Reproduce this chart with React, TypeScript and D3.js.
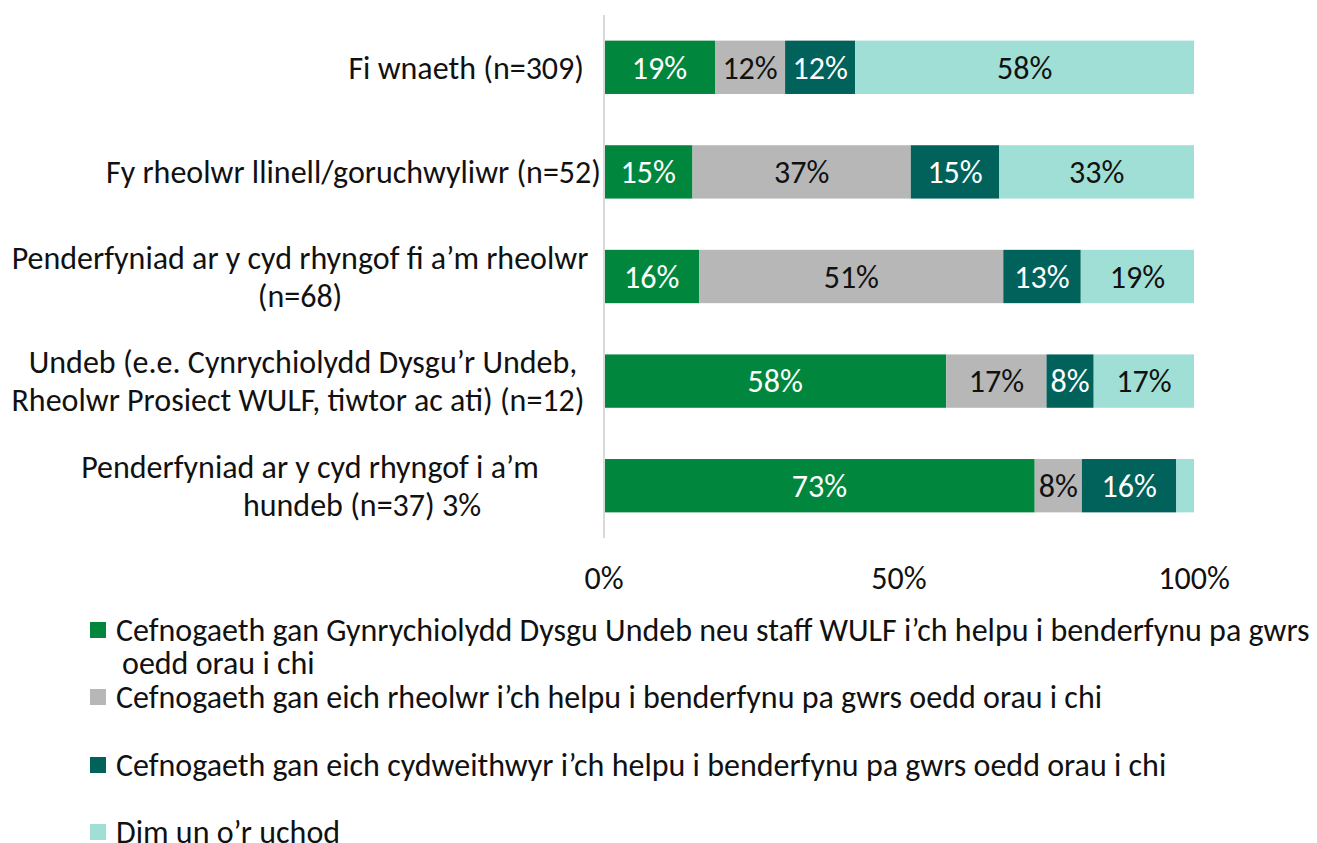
import React from "react";
import * as d3 from "d3";

const categories = [
  "Fi wnaeth (n=309)",
  "Fy rheolwr llinell/goruchwyliwr (n=52)",
  "Penderfyniad ar y cyd rhyngof fi a’m rheolwr (n=68)",
  "Undeb (e.e. Cynrychiolydd Dysgu’r Undeb, Rheolwr Prosiect WULF, tiwtor ac ati) (n=12)",
  "Penderfyniad ar y cyd rhyngof i a’m hundeb (n=37) 3%",
];
const categoryLines = [
  ["Fi wnaeth (n=309)"],
  ["Fy rheolwr llinell/goruchwyliwr (n=52)"],
  ["Penderfyniad ar y cyd rhyngof fi a’m rheolwr", "(n=68)"],
  ["Undeb (e.e. Cynrychiolydd Dysgu’r Undeb,", "Rheolwr Prosiect WULF, tiwtor ac ati) (n=12)"],
  ["Penderfyniad ar y cyd rhyngof i a’m", "hundeb (n=37) 3%"],
];

const seriesNames = [
  "Cefnogaeth gan Gynrychiolydd Dysgu Undeb neu staff WULF i’ch helpu i benderfynu pa gwrs oedd orau i chi",
  "Cefnogaeth gan eich rheolwr i’ch helpu i benderfynu pa gwrs oedd orau i chi",
  "Cefnogaeth gan eich cydweithwyr i’ch helpu i benderfynu pa gwrs oedd orau i chi",
  "Dim un o’r uchod",
];
const legendLines = [
  ["Cefnogaeth gan Gynrychiolydd Dysgu Undeb neu staff WULF i’ch helpu i benderfynu pa gwrs", "oedd orau i chi"],
  ["Cefnogaeth gan eich rheolwr i’ch helpu i benderfynu pa gwrs oedd orau i chi"],
  ["Cefnogaeth gan eich cydweithwyr i’ch helpu i benderfynu pa gwrs oedd orau i chi"],
  ["Dim un o’r uchod"],
];

const unionStaff = [19, 15, 16, 58, 73];
const manager = [12, 37, 51, 17, 8];
const colleagues = [12, 15, 13, 8, 16];
const none = [58, 33, 19, 17, 3];
// the 3% of the last row is shown in its category label instead of in the bar
const showNone = [true, true, true, true, false];

const tickValues = [0, 0.5, 1];
const tickLabels = ["0%", "50%", "100%"];

const colors = ["#00873D", "#B7B7B7", "#00625B", "#A0DFD5"];
const textColors = ["#ffffff", "#111111", "#ffffff", "#111111"];

const FONT = "Carlito, 'Liberation Sans Narrow', 'Liberation Sans', sans-serif";

export default function App() {
  const W = 1317, H = 843;
  const keys = ["a", "b", "c", "d"];
  const rows = categories.map((c, i) => ({
    cat: c,
    a: unionStaff[i],
    b: manager[i],
    c: colleagues[i],
    d: none[i],
  }));
  const stack = d3.stack<any>().keys(keys).offset(d3.stackOffsetExpand);
  const stacked = stack(rows);

  const x = d3.scaleLinear().domain([0, 1]).range([604, 1194]);
  const y = d3
    .scaleBand<string>()
    .domain(categories)
    .range([15, 538])
    .paddingInner(0.49)
    .paddingOuter(0.245);

  const fs = 32;
  const lineH = 38;
  // label placement: [anchor x, text-anchor] per line
  const labelPos: [number, "end" | "middle"][][] = [
    [[584, "end"]],
    [[601, "end"]],
    [[300, "middle"], [300, "middle"]],
    [[303, "middle"], [298, "middle"]],
    [[310, "middle"], [362, "middle"]],
  ];

  const legendY = [630, 697, 765, 832];

  return (
    <svg width={W} height={H} style={{ position: "absolute", left: 0, top: 0 }} fontFamily={FONT}>
      <rect x={0} y={0} width={W} height={H} fill="#fff" />
      {stacked.map((s, si) =>
        s.map((d, ri) => {
          const cat = categories[ri];
          const x0 = x(d[0]);
          const x1 = x(d[1]);
          const yy = y(cat)!;
          const bw = y.bandwidth();
          const raw = [unionStaff, manager, colleagues, none][si][ri];
          const show = si !== 3 || showNone[ri];
          return (
            <g key={si + "-" + ri}>
              <rect x={x0} y={yy} width={x1 - x0} height={bw} fill={colors[si]} />
              {show && (
                <text
                  x={(x0 + x1) / 2}
                  y={yy + bw / 2}
                  dy="0.35em"
                  textAnchor="middle"
                  fontSize={fs}
                  fill={textColors[si]}
                >
                  {raw}%
                </text>
              )}
            </g>
          );
        })
      )}
      <line x1={x(0)} x2={x(0)} y1={15} y2={538} stroke="#d9d9d9" strokeWidth={2} />
      {tickValues.map((t, i) => (
        <text key={t} x={x(t)} y={578} dy="0.35em" textAnchor="middle" fontSize={fs} fill="#111">
          {tickLabels[i]}
        </text>
      ))}
      {categoryLines.map((lines, ri) => {
        const cy = y(categories[ri])! + y.bandwidth() / 2;
        const n = lines.length;
        return lines.map((ln, li) => {
          const ly = cy + (li - (n - 1) / 2) * lineH;
          const [px, anchor] = labelPos[ri][li];
          return (
            <text key={ri + "-" + li} x={px} y={ly} dy="0.35em" textAnchor={anchor} fontSize={fs} fill="#111">
              {ln}
            </text>
          );
        });
      })}
      {seriesNames.map((s, i) => (
        <g key={s}>
          <rect x={90} y={legendY[i] - 8} width={16} height={16} fill={colors[i]} />
          {legendLines[i].map((ln, li) => (
            <text
              key={li}
              x={li === 0 ? 116 : 122}
              y={legendY[i] + li * 33}
              dy="0.35em"
              fontSize={fs}
              fill="#111"
            >
              {ln}
            </text>
          ))}
        </g>
      ))}
    </svg>
  );
}
